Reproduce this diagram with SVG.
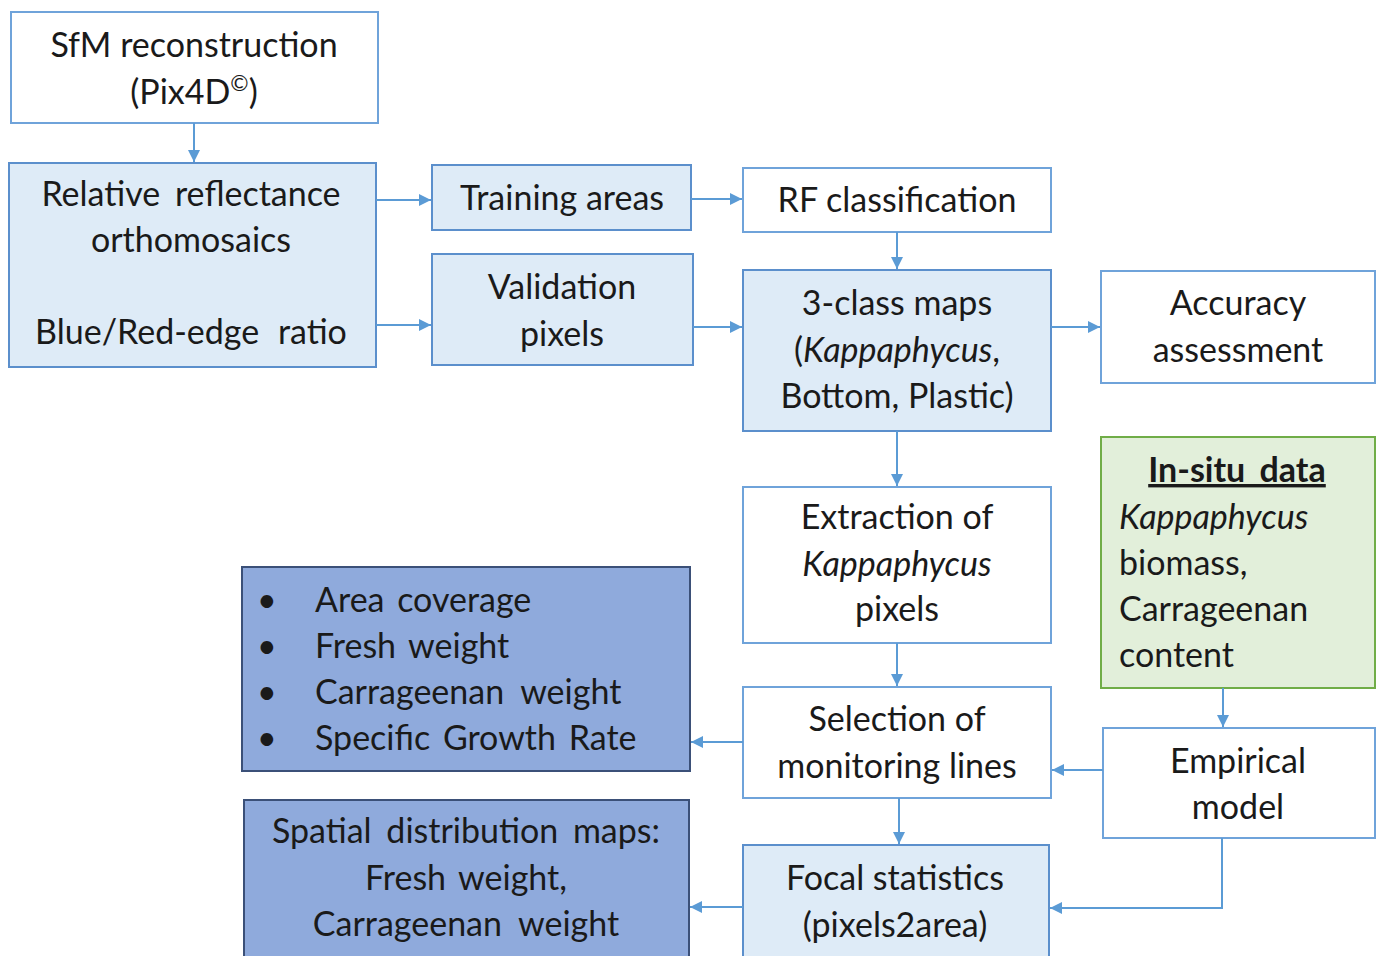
<svg xmlns="http://www.w3.org/2000/svg" width="1379" height="956" viewBox="0 0 1379 956">
<defs>
<marker id="ah" viewBox="0 0 12 12" refX="12" refY="6" markerWidth="12" markerHeight="12" markerUnits="userSpaceOnUse" orient="auto">
<path d="M0,0 L12,6 L0,12 z" fill="#5B9BD5"/>
</marker>
<style>
.w{fill:#ffffff;stroke:#6FA3DA;stroke-width:2}
.b{fill:#DEEBF7;stroke:#5B8FCC;stroke-width:2}
.g{fill:#E2EFDA;stroke:#70AD47;stroke-width:2}
.d{fill:#8FAADC;stroke:#3B5078;stroke-width:2}
text{font-family:Lato,"Liberation Sans",sans-serif;font-size:34px;fill:#1a1a1a}
.c{text-anchor:middle}
.i{font-style:italic}
.conn path{fill:none;stroke:#5B9BD5;stroke-width:2;marker-end:url(#ah)}
</style>
</defs>
<rect width="1379" height="956" fill="#ffffff"/>
<g id="n-sfm"><rect class="w" x="11" y="12" width="367" height="111"/>
<text class="c" x="194" y="57">SfM reconstruction</text>
<text class="c" x="194" y="104">(Pix4D<tspan font-size="22" dy="-13">©</tspan><tspan dy="13">)</tspan></text></g>
<g id="n-rel"><rect class="b" x="9" y="163" width="367" height="204"/>
<text class="c" x="191" y="206" word-spacing="6">Relative reflectance</text>
<text class="c" x="191" y="252">orthomosaics</text>
<text class="c" x="191" y="344" word-spacing="10">Blue/Red-edge ratio</text></g>
<g id="n-train"><rect class="b" x="432" y="165" width="259" height="65"/>
<text class="c" x="562" y="210">Training areas</text></g>
<g id="n-val"><rect class="b" x="432" y="254" width="261" height="111"/>
<text class="c" x="562" y="299">Validation</text>
<text class="c" x="562" y="346">pixels</text></g>
<g id="n-rf"><rect class="w" x="743" y="168" width="308" height="64"/>
<text class="c" x="897" y="212">RF classification</text></g>
<g id="n-3class"><rect class="b" x="743" y="270" width="308" height="161"/>
<text class="c" x="897" y="315">3-class maps</text>
<text class="c" x="897" y="362">(<tspan class="i">Kappaphycus</tspan>,</text>
<text class="c" x="897" y="408">Bottom, Plastic)</text></g>
<g id="n-acc"><rect class="w" x="1101" y="271" width="274" height="112"/>
<text class="c" x="1238" y="315">Accuracy</text>
<text class="c" x="1238" y="362">assessment</text></g>
<g id="n-insitu"><rect class="g" x="1101" y="437" width="274" height="251"/>
<text class="c" x="1237" y="482" font-weight="bold" text-decoration="underline" word-spacing="6">In-situ data</text>
<text class="i" x="1119" y="529">Kappaphycus</text>
<text x="1119" y="575">biomass,</text>
<text x="1119" y="621">Carrageenan</text>
<text x="1119" y="667">content</text></g>
<g id="n-extract"><rect class="w" x="743" y="487" width="308" height="156"/>
<text class="c" x="897" y="529">Extraction of</text>
<text class="c i" x="897" y="576">Kappaphycus</text>
<text class="c" x="897" y="621">pixels</text></g>
<g id="n-select"><rect class="w" x="743" y="687" width="308" height="111"/>
<text class="c" x="897" y="731">Selection of</text>
<text class="c" x="897" y="778">monitoring lines</text></g>
<g id="n-emp"><rect class="w" x="1103" y="728" width="272" height="110"/>
<text class="c" x="1238" y="773">Empirical</text>
<text class="c" x="1238" y="819">model</text></g>
<g id="n-focal"><rect class="b" x="743" y="845" width="306" height="120"/>
<text class="c" x="895" y="890">Focal statistics</text>
<text class="c" x="895" y="937">(pixels2area)</text></g>
<g id="n-bullets"><rect class="d" x="242" y="567" width="448" height="204"/>
<text x="257" y="612">•</text><text x="315" y="612" word-spacing="4">Area coverage</text>
<text x="257" y="658">•</text><text x="315" y="658" word-spacing="4">Fresh weight</text>
<text x="257" y="704">•</text><text x="315" y="704" word-spacing="8">Carrageenan weight</text>
<text x="257" y="750">•</text><text x="315" y="750" word-spacing="4">Specific Growth Rate</text></g>
<g id="n-spatial"><rect class="d" x="244" y="800" width="445" height="170"/>
<text class="c" x="466" y="843" word-spacing="6">Spatial distribution maps:</text>
<text class="c" x="466" y="890" word-spacing="4">Fresh weight,</text>
<text class="c" x="466" y="936" word-spacing="8">Carrageenan weight</text></g>
<g id="connectors" class="conn">
<path d="M194,123 V162"/>
<path d="M376,200 H431"/>
<path d="M376,325 H431"/>
<path d="M691,199 H742"/>
<path d="M693,327 H742"/>
<path d="M897,232 V269"/>
<path d="M1051,327 H1100"/>
<path d="M897,431 V486"/>
<path d="M897,643 V686"/>
<path d="M743,742 H691"/>
<path d="M899,798 V844"/>
<path d="M1223,688 V727"/>
<path d="M1103,770 H1052"/>
<path d="M1222,838 V908 H1050"/>
<path d="M743,907 H690"/>
</g>
</svg>
